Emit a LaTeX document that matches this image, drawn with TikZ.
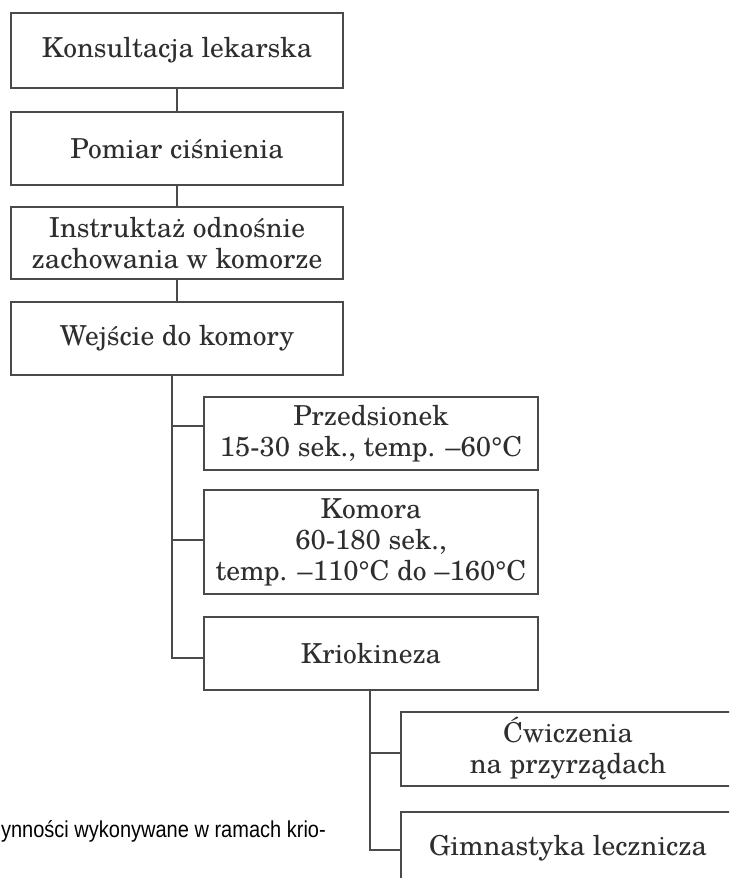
\documentclass[tikz,border=0pt]{standalone}
\usepackage{fontspec}
\setmainfont{texgyreschola-regular.otf}
\newfontfamily\capsans{Liberation Sans}[FakeStretch=0.87]
\definecolor{linegray}{HTML}{4A4A4A}
\definecolor{textgray}{HTML}{2E2E2E}
\begin{document}
\begin{tikzpicture}[x=1pt,y=-1pt,
  boxA/.style={draw=linegray, line width=1.6pt, minimum width=332pt, inner sep=0pt,
    align=center, text=textgray, font=\fontsize{27.5}{31}\selectfont},
  boxB/.style={boxA, minimum width=334pt},
  link/.style={draw=linegray, line width=1.6pt}]
\useasboundingbox (0,0) rectangle (729,878);
\clip (0,0) rectangle (729,878);
\fill[white] (0,0) rectangle (729,878);

\node[boxA, minimum height=75pt] (b1) at (177,50.5) {Konsultacja lekarska};
\node[boxA, minimum height=73pt] (b2) at (177,148.5) {Pomiar ciśnienia};
\node[boxA, minimum height=72pt] (b3) at (177,243) {Instruktaż odnośnie\\zachowania w komorze};
\node[boxA, minimum height=73pt] (b4) at (177,338.5) {Wejście do komory};

\node[boxB, minimum height=73pt] (p1) at (371,433.5) {Przedsionek\\15-30 sek., temp. –60°C};
\node[boxB, minimum height=104pt] (p2) at (371,542) {Komora\\60-180 sek.,\\temp. –110°C do –160°C};
\node[boxB, minimum height=73pt] (p3) at (371,653.5) {Kriokineza};

\node[boxB, minimum height=74pt] (c1) at (568,749) {Ćwiczenia\\na przyrządach};
\node[boxB, minimum height=73pt] (c2) at (568,848.5) {Gimnastyka lecznicza};

\node[anchor=base east, inner sep=0pt, font=\capsans\fontsize{23}{27}\selectfont] (cap) at (326,837) {ynności wykonywane w ramach krio-};

\draw[link] (b1.south) -- (b2.north);
\draw[link] (b2.south) -- (b3.north);
\draw[link] (b3.south) -- (b4.north);

\coordinate (j1) at ([xshift=-5pt]b4.south);
\draw[link] (j1) |- ([yshift=7.5pt]p1.west);
\draw[link] (j1) |- ([yshift=2pt]p2.west);
\draw[link] (j1) |- ([yshift=-4.5pt]p3.west);

\coordinate (j2) at ([xshift=-1pt]p3.south);
\draw[link] (j2) |- ([yshift=-4pt]c1.west);
\draw[link] (j2) |- ([yshift=-1.5pt]c2.west);
\end{tikzpicture}
\end{document}
